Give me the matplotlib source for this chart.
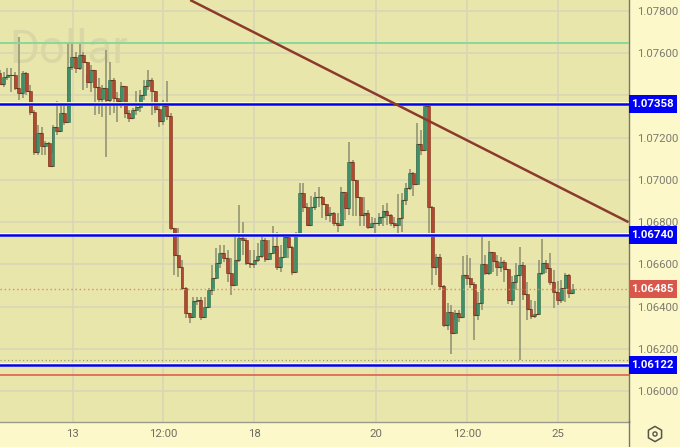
import matplotlib
matplotlib.use("Agg")
import matplotlib.pyplot as plt
from matplotlib.patches import Rectangle
import numpy as np

closes = [1.07508,1.07454,1.07489,1.07497,1.07495,1.07435,1.07412,1.07508,1.07421,1.07322,
1.07134,1.07222,1.07161,1.07175,1.07066,1.07252,1.07232,1.07317,1.07276,1.07536,
1.07584,1.07530,1.07592,1.07558,1.07465,1.07521,1.07440,1.07383,1.07435,1.07378,
1.07473,1.07388,1.07375,1.07445,1.07318,1.07293,1.07331,1.07345,1.07402,1.07445,
1.07473,1.07423,1.07336,1.07280,1.07350,1.07303,1.06772,1.06644,1.06589,1.06488,
1.06369,1.06351,1.06428,1.06431,1.06352,1.06399,1.06478,1.06535,1.06606,1.06654,
1.06630,1.06559,1.06502,1.06621,1.06725,1.06715,1.06608,1.06602,1.06621,1.06640,
1.06715,1.06625,1.06654,1.06687,1.06587,1.06635,1.06731,1.06682,1.06565,1.06750,
1.06938,1.06873,1.06786,1.06873,1.06919,1.06919,1.06886,1.06834,1.06845,1.06797,
1.06786,1.06944,1.06867,1.07086,1.07000,1.06920,1.06834,1.06845,1.06777,1.06797,
1.06796,1.06824,1.06854,1.06834,1.06796,1.06786,1.06820,1.06905,1.06962,1.07033,
1.06981,1.07170,1.07142,1.07350,1.06872,1.06589,1.06636,1.06497,1.06313,1.06376,
1.06275,1.06371,1.06351,1.06549,1.06535,1.06507,1.06360,1.06418,1.06602,1.06560,
1.06658,1.06617,1.06589,1.06613,1.06578,1.06431,1.06518,1.06549,1.06597,1.06459,
1.06388,1.06355,1.06365,1.06560,1.06608,1.06583,1.06518,1.06470,1.06431,1.06489,1.06549,
1.06466,1.06485]
highs = [1.07544,1.07521,1.07511,1.07530,1.07530,1.07511,1.07677,1.07516,1.07511,1.07450,
1.07331,1.07260,1.07251,1.07184,1.07180,1.07260,1.07374,1.07355,1.07355,1.07649,
1.07649,1.07606,1.07644,1.07606,1.07497,1.07544,1.07473,1.07483,1.07450,1.07615,
1.07558,1.07483,1.07416,1.07464,1.07378,1.07331,1.07341,1.07421,1.07426,1.07473,
1.07521,1.07483,1.07412,1.07355,1.07378,1.07468,1.07317,1.06767,1.06772,1.06621,
1.06493,1.06369,1.06445,1.06445,1.06445,1.06445,1.06488,1.06597,1.06677,1.06692,
1.06692,1.06668,1.06630,1.06739,1.06881,1.06801,1.06725,1.06668,1.06668,1.06701,
1.06734,1.06725,1.06715,1.06782,1.06753,1.06692,1.06748,1.06734,1.06687,1.06753,
1.06985,1.06985,1.06891,1.06924,1.06943,1.06966,1.06924,1.06872,1.06872,1.06848,
1.06843,1.06966,1.06919,1.07180,1.07094,1.07000,1.06919,1.06919,1.06857,1.06824,
1.06820,1.06843,1.06881,1.06891,1.06838,1.06824,1.06933,1.06938,1.06985,1.07052,
1.07037,1.07270,1.07236,1.07369,1.07364,1.06876,1.06649,1.06649,1.06502,1.06417,
1.06407,1.06384,1.06384,1.06640,1.06644,1.06630,1.06516,1.06469,1.06734,1.06644,
1.06711,1.06658,1.06644,1.06635,1.06621,1.06573,1.06545,1.06606,1.06682,1.06611,
1.06516,1.06431,1.06426,1.06621,1.06720,1.06620,1.06654,1.06573,1.06521,1.06526,1.06559,
1.06554,1.06507]
lows = [1.07497,1.07450,1.07440,1.07473,1.07416,1.07426,1.07378,1.07388,1.07402,1.07307,
1.07118,1.07118,1.07118,1.07118,1.07061,1.07127,1.07213,1.07236,1.07260,1.07331,
1.07521,1.07506,1.07521,1.07426,1.07435,1.07416,1.07307,1.07312,1.07298,1.07108,
1.07307,1.07317,1.07274,1.07341,1.07293,1.07274,1.07293,1.07307,1.07322,1.07378,
1.07426,1.07307,1.07317,1.07251,1.07260,1.07284,1.06763,1.06549,1.06540,1.06478,
1.06346,1.06322,1.06346,1.06407,1.06336,1.06346,1.06407,1.06455,1.06564,1.06583,
1.06611,1.06516,1.06455,1.06502,1.06611,1.06644,1.06597,1.06583,1.06583,1.06611,
1.06630,1.06611,1.06635,1.06658,1.06573,1.06564,1.06644,1.06630,1.06549,1.06611,
1.06739,1.06848,1.06782,1.06829,1.06857,1.06872,1.06820,1.06810,1.06801,1.06782,
1.06753,1.06838,1.06810,1.06834,1.06829,1.06829,1.06782,1.06782,1.06767,1.06786,
1.06744,1.06782,1.06782,1.06786,1.06782,1.06772,1.06734,1.06753,1.06881,1.06952,
1.06924,1.06976,1.07118,1.07142,1.06748,1.06502,1.06549,1.06478,1.06303,1.06289,
1.06175,1.06336,1.06327,1.06431,1.06502,1.06488,1.06242,1.06336,1.06384,1.06549,
1.06549,1.06564,1.06545,1.06564,1.06516,1.06412,1.06407,1.06478,1.06147,1.06431,
1.06336,1.06341,1.06346,1.06422,1.06549,1.06560,1.06502,1.06393,1.06407,1.06417,1.06422,
1.06441,1.06464]
first_open = 1.07530

price_ticks = [1.078, 1.076, 1.074, 1.072, 1.070, 1.068, 1.066, 1.064, 1.062, 1.060]
price_tick_labels = ["1.07800", "1.07600", "", "1.07200", "1.07000", "1.06800", "1.06600", "1.06400", "1.06200", "1.06000"]
time_tick_pos = [20.2, 44.1, 68.0, 100.2, 124.2, 148.2]
time_tick_labels = ["13", "12:00", "18", "20", "12:00", "25"]
blue_levels = [1.07358, 1.06740, 1.06122]
green_level = 1.07650
red_level = 1.06078
grey_dotted_level = 1.06147
last_price = 1.06485
trend_x = [51.16, 166.7]
trend_y = [1.07852, 1.06800]
xlim = (1.03, 166.7)
ylim = (1.05855, 1.07852)

PLOT = "#E9E6AC"
PANEL = "#FDF8C9"
UP = "#3F8F68"
DOWN = "#AF4A30"
WICK = "#8E8E72"
GRID = "#D8D6B6"
BLUE = "#0000F0"

plt.rcParams["font.family"] = ["Roboto", "DejaVu Sans"]
fig = plt.figure(figsize=(6.8, 4.47), dpi=100, facecolor=PANEL)
ax = fig.add_axes([0, 1 - 421.7 / 447, 628.5 / 680, 421.7 / 447], facecolor=PLOT)
ax.set_xlim(*xlim)
ax.set_ylim(*ylim)

ax.set_yticks(price_ticks)
ax.set_yticklabels(price_tick_labels)
ax.yaxis.tick_right()
ax.tick_params(axis="y", length=0, pad=6, labelsize=8.2, labelcolor="#7B7B70")
ax.set_xticks(time_tick_pos)
ax.set_xticklabels(time_tick_labels)
ax.tick_params(axis="x", length=0, pad=5, labelsize=8.2, labelcolor="#6E6E64")
ax.grid(True, color=GRID, lw=1.1, zorder=0)
ax.set_axisbelow(True)
for s in ["top", "left"]:
    ax.spines[s].set_visible(False)
ax.spines["right"].set_color("#77776C")
ax.spines["right"].set_linewidth(1)
ax.spines["bottom"].set_color("#9A9A8C")
ax.spines["bottom"].set_linewidth(1)

ax.text(0.014, 0.881, "Dollar", transform=ax.transAxes, fontsize=33, color="#D9D7A3",
        family="Roboto", va="center", ha="left", zorder=1)

# candles
xs = np.arange(len(closes))
c = np.array(closes)
o = np.r_[first_open, c[:-1]]
colors = [UP if b >= a else DOWN for a, b in zip(o, c)]
ax.vlines(xs, lows, highs, color=WICK, lw=1.1, zorder=2)
ax.bar(xs, np.abs(c - o), bottom=np.minimum(o, c), width=0.78, color=colors,
       edgecolor=[("#2E6B4D" if k == UP else "#7E2E1C") for k in colors], linewidth=0.4, zorder=3)
# stair connector
ax.hlines(c[:-1], xs[:-1], xs[1:], color="#6B3A22", lw=0.8, zorder=4)

# levels
ax.axhline(green_level, color="#84D69C", lw=1.3, zorder=5)
ax.axhline(grey_dotted_level, color="#9A9A80", lw=0.9, ls=(0, (1, 2)), zorder=5)
ax.axhline(last_price, color="#E08A60", lw=1.0, ls=(0, (1, 2)), zorder=5)
ax.axhline(red_level, color="#E0604C", lw=1.2, zorder=5)
for lv in blue_levels:
    ax.axhline(lv, color="#FFFFD8", lw=2.8, zorder=5)
    ax.axhline(lv, color=BLUE, lw=1.8, zorder=6)
ax.plot(trend_x, trend_y, color="#8B3A2C", lw=1.8, zorder=7, solid_capstyle="butt")

# price labels on the scale
trans = ax.get_yaxis_transform()
box_w = 48 / 628.5
box_h = 18 / 421.7 * (ylim[1] - ylim[0])
def tag(price, col):
    ax.add_patch(Rectangle((1.0, price - box_h / 2), box_w, box_h, transform=trans, fc=col, ec="none",
                           zorder=9, clip_on=False))
    ax.text(1.0 + box_w / 2, price, f"{price:.5f}", transform=trans, color="white", fontsize=8.2,
            fontweight="bold", ha="center", va="center", zorder=10, clip_on=False)
for lv in blue_levels:
    tag(lv, "#0000F5")
tag(last_price, "#D8574A")

# settings icon
ov = fig.add_axes([0, 0, 1, 1], facecolor="none")
ov.set_xlim(0, 680)
ov.set_ylim(447, 0)
ov.axis("off")
ov.scatter([655], [434], marker="h", s=120, facecolor="none", edgecolor="#55554C", lw=1.1)
ov.scatter([655], [434], marker="o", s=9, facecolor="none", edgecolor="#55554C", lw=1.0)
ov.plot([628.5, 628.5], [421, 447], color="#77776C", lw=1)

fig.savefig("out.png", dpi=100, facecolor=PANEL)
